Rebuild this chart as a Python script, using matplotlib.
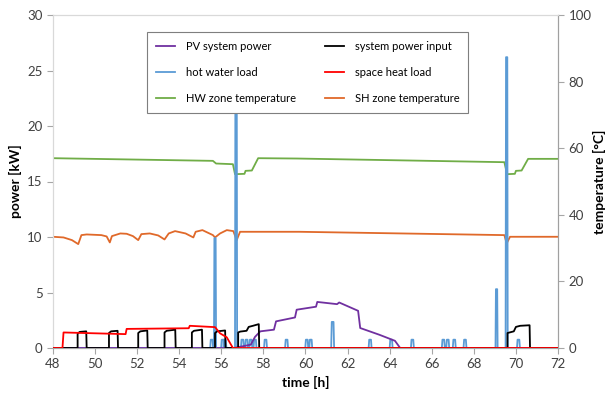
import numpy as np
import matplotlib
matplotlib.use("Agg")
import matplotlib.pyplot as plt

plt.rcParams['font.family'] = ['Lato', 'DejaVu Sans']

# Данные, считанные с графика
# space heat load [kW]
sh_load_t = [48, 48.45, 48.5, 51.45, 51.5, 54.45, 54.5, 55.7, 55.94, 56.26, 56.55, 72]
sh_load_p = [0, 0, 1.4, 1.25, 1.72, 1.78, 2.0, 1.88, 1.32, 0.96, 0, 0]

# system power input [kW]
sys_t = [48,
         49.17, 49.17, 49.27, 49.58, 49.6,
         50.66, 50.66, 50.76, 51.07, 51.09,
         52.05, 52.05, 52.15, 52.48, 52.5,
         53.3, 53.3, 53.4, 53.81, 53.83,
         54.6, 54.6, 54.7, 55.08, 55.1,
         55.7, 55.7, 55.8, 56.18, 56.2,
         56.8, 56.8, 56.9, 57.2, 57.3, 57.5, 57.78, 57.8,
         69.6, 69.6, 69.9, 70.0, 70.2, 70.65, 70.67, 72]
sys_p = [0,
         0, 1.3, 1.45, 1.5, 0,
         0, 1.35, 1.5, 1.55, 0,
         0, 1.35, 1.5, 1.58, 0,
         0, 1.4, 1.55, 1.65, 0,
         0, 1.4, 1.55, 1.65, 0,
         0, 1.35, 1.5, 1.58, 0,
         0, 1.4, 1.48, 1.55, 1.9, 2.0, 2.15, 0,
         0, 1.35, 1.5, 1.9, 2.0, 2.05, 0, 0]

# PV system power [kW]
pv_t = [48, 56.6, 57.4, 57.6, 57.85, 58.5, 58.6, 59.5, 59.58, 60.5, 60.56,
        61.5, 61.6, 62.5, 62.6, 63.5, 64.25, 64.5, 72]
pv_p = [0, 0, 0.3, 1.0, 1.5, 1.65, 2.4, 2.75, 3.45, 3.72, 4.15,
        3.95, 4.1, 3.35, 1.8, 1.2, 0.65, 0, 0]

# hot water load: spike centres [h] and peaks [kW]
hw_spike_t = [55.54, 55.7, 56.06, 56.17, 56.7, 57.0, 57.2, 57.4, 57.6, 58.1,
              59.1, 60.06, 60.25, 61.29, 63.07, 64.07, 65.08, 66.55, 66.76,
              67.07, 67.58, 69.08, 69.56, 70.12]
hw_spike_p = [0.75, 9.9, 0.75, 0.75, 27.0, 0.75, 0.75, 0.75, 0.75, 0.75,
              0.75, 0.75, 0.75, 2.35, 0.75, 0.75, 0.75, 0.75, 0.75,
              0.75, 0.75, 5.3, 26.2, 0.75]

# HW zone temperature [°C]
hwz_t = [48, 55.6, 55.75, 56.55, 56.65, 57.1, 57.15, 57.45, 57.75, 59.6, 69.45,
         69.58, 69.95, 70.0, 70.27, 70.58, 72]
hwz_T = [57.0, 56.2, 55.4, 55.2, 52.2, 52.3, 53.2, 53.3, 57.0, 56.9, 55.8,
         52.2, 52.3, 53.2, 53.3, 56.8, 56.8]

# SH zone temperature [°C]
shz_t = [48, 48.5, 48.9, 49.2, 49.35, 49.6, 50.3, 50.55, 50.7, 50.8, 51.2, 51.5,
         51.8, 52.05, 52.2, 52.6, 53.0, 53.3, 53.5, 53.8, 54.3, 54.67, 54.78,
         55.1, 55.6, 55.7, 55.94, 56.26, 56.57, 56.73, 56.89, 59.7, 69.45,
         69.56, 69.72, 72]
shz_T = [33.4, 33.2, 32.4, 31.2, 33.9, 34.1, 33.9, 33.5, 31.7, 33.6, 34.4, 34.3,
         33.6, 32.4, 34.2, 34.4, 33.8, 32.6, 34.4, 35.1, 34.4, 33.2, 34.9,
         35.4, 33.9, 33.2, 34.4, 35.4, 35.1, 32.4, 34.9, 34.9, 33.9,
         31.4, 33.4, 33.4]

x_ticks = np.arange(48, 73, 2)
p_ticks = np.arange(0, 31, 5)
T_ticks = np.arange(0, 101, 20)

# Построение ломаной для пиков нагрузки ГВС
hw_t, hw_p = [48], [0]
for c, h in zip(hw_spike_t, hw_spike_p):
    w = 0.05 if h > 3 else 0.07
    hw_t += [c - w, c - w * 0.6, c + w * 0.6, c + w]
    hw_p += [0, h, h, 0]
hw_t.append(72); hw_p.append(0)

C_PV = '#7030A0'
C_SYS = '#000000'
C_HW = '#5B9BD5'
C_SH = '#FF0000'
C_HWZ = '#70AD47'
C_SHZ = '#E0692A'

fig = plt.figure(figsize=(6.11, 3.94), dpi=100)
ax = fig.add_axes([53/611, 1 - 348/394, 505/611, 333/394])
ax2 = ax.twinx()
ax.set_zorder(ax2.get_zorder() + 1)
ax.patch.set_visible(False)

l_hwz, = ax2.plot(hwz_t, hwz_T, color=C_HWZ, lw=1.3, label='HW zone temperature')
l_shz, = ax2.plot(shz_t, shz_T, color=C_SHZ, lw=1.3, label='SH zone temperature')

l_hw, = ax.plot(hw_t, hw_p, color=C_HW, lw=1.3, zorder=2, label='hot water load')
l_pv, = ax.plot(pv_t, pv_p, color=C_PV, lw=1.3, zorder=3, label='PV system power')
l_sys, = ax.plot(sys_t, sys_p, color=C_SYS, lw=1.3, zorder=3, label='system power input')
l_sh, = ax.plot(sh_load_t, sh_load_p, color=C_SH, lw=1.3, zorder=4, label='space heat load')

ax.set_xlim(48, 72)
ax.set_ylim(0, 30)
ax2.set_ylim(0, 100)
ax.set_xticks(x_ticks)
ax.set_yticks(p_ticks)
ax2.set_yticks(T_ticks)

for a in (ax, ax2):
    a.tick_params(labelsize=9.5, labelcolor='#404040', color='#a6a6a6', length=4, width=0.8)
    for s in a.spines.values():
        s.set_color('#d9d9d9')
    a.spines['right'].set_color('#a0a0a0')
    a.spines['bottom'].set_color('#a6a6a6')

ax.set_xlabel('time [h]', fontsize=10, fontweight='bold', labelpad=4)
ax.set_ylabel('power [kW]', fontsize=10, fontweight='bold', labelpad=4)
ax2.set_ylabel('temperature [°C]', fontsize=10, fontweight='bold', labelpad=1)

handles = [l_pv, l_hw, l_hwz, l_sys, l_sh, l_shz]
leg = ax.legend(handles=handles, ncol=2, loc='upper left',
                bbox_to_anchor=(147/611, 1 - 32/394), bbox_transform=fig.transFigure,
                borderaxespad=0, fontsize=8, frameon=True, fancybox=False, framealpha=1,
                edgecolor='#7f7f7f', handlelength=1.7, handletextpad=1.0,
                labelspacing=1.35, columnspacing=2.6, borderpad=0.8)
leg.get_frame().set_linewidth(0.8)

fig.savefig('out.png', dpi=100)
